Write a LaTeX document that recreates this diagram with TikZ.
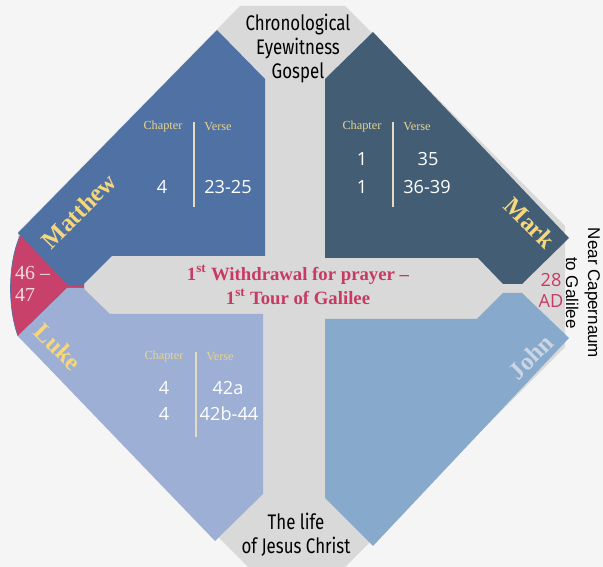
\documentclass[tikz,border=0pt]{standalone}
\usepackage{fontspec}
\setmainfont{Liberation Serif}
\newfontfamily\capfont[FakeStretch=0.8]{Fira Sans}
\newfontfamily\numfont{Open Sans}
\newfontfamily\placefont{Liberation Sans}
\definecolor{pagebg}{HTML}{F5F5F5}
\definecolor{crossgrey}{HTML}{D9D9D9}
\definecolor{matthewc}{HTML}{4F71A3}
\definecolor{markc}{HTML}{435E74}
\definecolor{lukec}{HTML}{9DAFD4}
\definecolor{johnc}{HTML}{87A9CB}
\definecolor{yearc}{HTML}{C8416A}
\definecolor{goldc}{HTML}{F6D77C}
\definecolor{eventc}{HTML}{C93A62}
\definecolor{headc}{HTML}{E8D48E}
\definecolor{rulec}{HTML}{E4DBC3}
\definecolor{johntext}{HTML}{CBD5E4}
\definecolor{yeartext}{HTML}{F0DCE0}
\begin{document}
\begin{tikzpicture}[x=0.03cm,y=-0.03cm,every node/.style={inner sep=0pt,align=center},
  gospel/.style={font=\bfseries\fontsize{21}{21}\selectfont,text=goldc},
  head/.style={font=\fontsize{10.5}{10.5}\selectfont,text=headc},
  verse/.style={font=\numfont\fontsize{15.5}{15.5}\selectfont,text=white},
  caption/.style={font=\capfont\fontsize{18}{20.5}\selectfont,text=black}]
\useasboundingbox[fill=pagebg] (0,0) rectangle (603,567);
\fill[crossgrey] (240,6) -- (345,6) -- (565,226) -- (565,347) -- (345,567) -- (248,567) -- (18,337) -- (18,232) -- cycle;
\fill[yearc] (22,232) -- (68,284) -- (84,284) -- (84,289) -- (67,289) -- (18,336) .. controls (7,306) and (8,258) .. (22,232) -- cycle;
\draw[matthewc,line width=0.6pt] (18,336) .. controls (7,306) and (8,258) .. (22,232);
\fill[matthewc] (18,233) -- (217,30) -- (265,79) -- (265,256) -- (112,256) -- (83,285) -- (68,285) -- cycle;
\fill[markc] (325,79) -- (373,32) -- (569,238) -- (522,284) -- (503,284) -- (478,258) -- (325,258) -- cycle;
\fill[lukec] (67,288) -- (83,288) -- (110,314) -- (263,314) -- (263,494) -- (215,541) -- (18,336) -- cycle;
\fill[johnc] (325,319) -- (477,319) -- (503,293) -- (522,293) -- (569,338) -- (373,546) -- (325,498) -- cycle;
\foreach \x/\ya/\yb in {194/122/207,393/122/207,196/352/437}
  \draw[rulec,line width=1pt] (\x,\ya) -- (\x,\yb);
\node[caption] (chrono) at (298,49) {Chronological\\Eyewitness\\Gospel};
\node[caption] (life) at (296,535) {The life\\of Jesus Christ};
\node[font=\placefont\fontsize{14.5}{18.7}\selectfont,rotate=-90] (where) at (583,293) {Near Capernaum\\to Galilee};
\node[font=\numfont\fontsize{15.5}{18}\selectfont,text=eventc] (year) at (551,290) {28\\AD};
\node[font=\fontsize{17}{18.7}\selectfont,text=yeartext,align=left,anchor=west] (years) at (15,284) {46 –\\47};
\node[font=\bfseries\fontsize{16}{20.4}\selectfont,text=eventc] (event) at (298,285) {1\textsuperscript{st} Withdrawal for prayer –\\1\textsuperscript{st} Tour of Galilee};
\node[gospel,rotate=45] (matthew) at (79,211) {Matthew};
\node[gospel,rotate=-45] (mark) at (530,223) {Mark};
\node[gospel,rotate=-45] (luke) at (58,347) {Luke};
\node[gospel,rotate=45,text=johntext] (john) at (531,357) {John};
\foreach \name/\x/\y/\t in {mtChap/163/127/Chapter,mtVerse/218/127/Verse,mkChap/362/127/Chapter,mkVerse/417/127/Verse,lkChap/164/357/Chapter,lkVerse/220/357/Verse}
  \node[head] (\name) at (\x,\y) {\t};
\foreach \name/\x/\y/\t in {mtA/162/187/4,mtB/228/187/23-25,mkA/362/159/1,mkB/428/159/35,mkC/362/187/1,mkD/427/187/36-39,lkA/164/388/4,lkB/228/388/42a,lkC/164/414/4,lkD/229/414/42b-44}
  \node[verse] (\name) at (\x,\y) {\t};
\end{tikzpicture}
\end{document}
